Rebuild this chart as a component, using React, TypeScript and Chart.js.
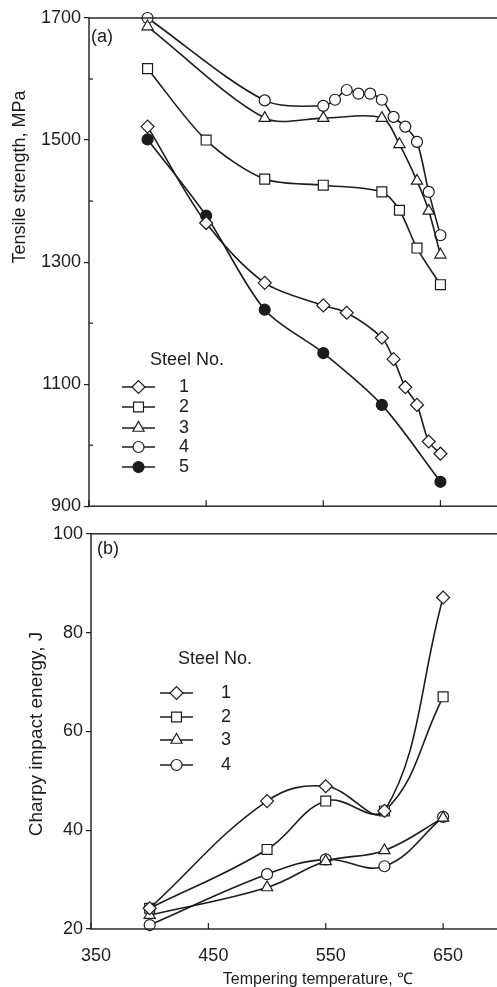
import React, { useEffect, useRef } from 'react';
import { Chart, registerables } from 'chart.js';

Chart.register(...registerables);

const FONT = '"Liberation Sans", Arial, Helvetica, sans-serif';
const INK = '#1c1c1c';

// ---------- Panel (a): tensile strength, MPa ----------
const tempA1 = [400, 450, 500, 550, 570, 600, 610, 620, 630, 640, 650];
const steel1A = [1522, 1364, 1266, 1229, 1217, 1176, 1141, 1095, 1066, 1006, 986];
const tempA2 = [400, 450, 500, 550, 600, 615, 630, 650];
const steel2A = [1617, 1500, 1436, 1426, 1415, 1385, 1323, 1263];
const tempA3 = [400, 500, 550, 600, 615, 630, 640, 650];
const steel3A = [1686, 1536, 1536, 1536, 1493, 1433, 1384, 1312];
const tempA4 = [400, 500, 550, 560, 570, 580, 590, 600, 610, 620, 630, 640, 650];
const steel4A = [1700, 1565, 1556, 1566, 1582, 1576, 1576, 1566, 1538, 1522, 1497, 1415, 1344];
const tempA5 = [400, 450, 500, 550, 600, 650];
const steel5A = [1501, 1376, 1222, 1151, 1066, 940];

// ---------- Panel (b): Charpy impact energy, J ----------
const tempB = [400, 500, 550, 600, 650];
const steel1B = [24.2, 45.9, 48.9, 43.9, 87.1];
const steel2B = [24.2, 36.1, 45.9, 43.9, 67.0];
const steel3B = [22.8, 28.4, 33.7, 35.9, 42.5];
const steel4B = [20.8, 31.1, 34.1, 32.7, 42.7];

// ---------- ticks & labels ----------
const xTickValues = [350, 450, 550, 650];
const yTicksA = [900, 1100, 1300, 1500, 1700];
const yMinorA = [1000, 1200, 1400, 1600];
const yTicksB = [20, 40, 60, 80, 100];
const steelLabelsA = ['1', '2', '3', '4', '5'];
const steelLabelsB = ['1', '2', '3', '4'];
const legendTitle = 'Steel No.';
const titleA = 'Tensile strength, MPa';
const titleB = 'Charpy impact energy, J';
const titleX = 'Tempering temperature, \u2103';

type Mk = { style: string; r: number; filled: boolean };
const markers: Mk[] = [
  { style: 'rectRot', r: 6.5, filled: false },
  { style: 'rect', r: 7, filled: false },
  { style: 'triangle', r: 6.5, filled: false },
  { style: 'circle', r: 5.5, filled: false },
  { style: 'circle', r: 5.5, filled: true },
];

function drawMarker(ctx: CanvasRenderingContext2D, m: Mk, x: number, y: number) {
  const r = m.r;
  ctx.beginPath();
  if (m.style === 'circle') {
    ctx.arc(x, y, r, 0, Math.PI * 2);
  } else if (m.style === 'rect') {
    const s = r * Math.SQRT1_2;
    ctx.rect(x - s, y - s, 2 * s, 2 * s);
  } else if (m.style === 'rectRot') {
    ctx.moveTo(x - r, y);
    ctx.lineTo(x, y - r);
    ctx.lineTo(x + r, y);
    ctx.lineTo(x, y + r);
    ctx.closePath();
  } else {
    const a = (2 * Math.PI) / 3;
    ctx.moveTo(x, y - r);
    ctx.lineTo(x + Math.sin(a) * r, y - Math.cos(a) * r);
    ctx.lineTo(x + Math.sin(2 * a) * r, y - Math.cos(2 * a) * r);
    ctx.closePath();
  }
  ctx.fillStyle = m.filled ? INK : '#ffffff';
  ctx.fill();
  ctx.lineWidth = 1.2;
  ctx.strokeStyle = INK;
  ctx.stroke();
}

function ds(temps: number[], vals: number[], i: number, tension: number) {
  const m = markers[i];
  return {
    data: temps.map((t, k) => ({ x: t, y: vals[k] })),
    showLine: true,
    borderColor: INK,
    borderWidth: 1.6,
    tension,
    fill: false,
    clip: false as const,
    pointStyle: m.style,
    pointRadius: m.r,
    pointHoverRadius: m.r,
    pointBackgroundColor: m.filled ? INK : '#ffffff',
    pointBorderColor: INK,
    pointBorderWidth: 1.2,
  };
}

type DecorCfg = {
  panel: string;
  panelPos: [number, number];
  yMinor: number[];
  legendLabels: string[];
  legendTitlePos: [number, number];
  legendYs: number[];
  legendLine: [number, number];
  legendNumX: number;
  yTitle: string;
  yTitlePos: [number, number];
  yTitleSize: number;
  xTitle?: string;
  xTitlePos?: [number, number];
};

function makeDecor(c: DecorCfg) {
  return {
    id: 'decor_' + c.panel,
    afterDatasetsDraw(chart: any) {
      const ctx: CanvasRenderingContext2D = chart.ctx;
      ctx.save();
      ctx.font = `18px ${FONT}`;
      ctx.fillStyle = INK;
      ctx.textBaseline = 'middle';
      ctx.textAlign = 'left';
      ctx.fillText(legendTitle, c.legendTitlePos[0], c.legendTitlePos[1]);
      c.legendLabels.forEach((lab, i) => {
        const y = c.legendYs[i];
        ctx.beginPath();
        ctx.moveTo(c.legendLine[0], y);
        ctx.lineTo(c.legendLine[1], y);
        ctx.lineWidth = 1.6;
        ctx.strokeStyle = INK;
        ctx.stroke();
        drawMarker(ctx, markers[i], (c.legendLine[0] + c.legendLine[1]) / 2, y);
        ctx.fillStyle = INK;
        ctx.textAlign = 'center';
        ctx.fillText(lab, c.legendNumX, y);
      });
      ctx.restore();
    },
    afterDraw(chart: any) {
      const ctx: CanvasRenderingContext2D = chart.ctx;
      const a = chart.chartArea;
      const xs = chart.scales.x;
      const ys = chart.scales.y;
      ctx.save();
      ctx.strokeStyle = INK;
      ctx.lineWidth = 1.4;
      ctx.strokeRect(a.left, a.top, a.right - a.left, a.bottom - a.top);
      ctx.lineWidth = 1.2;
      xTickValues.forEach((v) => {
        const x = xs.getPixelForValue(v);
        ctx.beginPath();
        ctx.moveTo(x, a.bottom);
        ctx.lineTo(x, a.bottom - 6);
        ctx.stroke();
      });
      c.yMinor.forEach((v) => {
        const y = ys.getPixelForValue(v);
        ctx.beginPath();
        ctx.moveTo(a.left, y);
        ctx.lineTo(a.left + 4, y);
        ctx.stroke();
      });
      ctx.fillStyle = INK;
      ctx.font = `18px ${FONT}`;
      ctx.textAlign = 'left';
      ctx.textBaseline = 'middle';
      ctx.fillText(`(${c.panel})`, c.panelPos[0], c.panelPos[1]);
      ctx.save();
      ctx.translate(c.yTitlePos[0], c.yTitlePos[1]);
      ctx.rotate(-Math.PI / 2);
      ctx.textAlign = 'center';
      ctx.font = `${c.yTitleSize}px ${FONT}`;
      ctx.fillText(c.yTitle, 0, 0);
      ctx.restore();
      if (c.xTitle && c.xTitlePos) {
        ctx.font = `16px ${FONT}`;
        ctx.textAlign = 'center';
        ctx.textBaseline = 'alphabetic';
        ctx.fillText(c.xTitle, c.xTitlePos[0], c.xTitlePos[1]);
      }
      ctx.restore();
    },
  };
}

function makeChart(
  canvas: HTMLCanvasElement,
  datasets: any[],
  yMin: number,
  yMax: number,
  yTicks: number[],
  yWidth: number,
  xHeight: number,
  showXLabels: boolean,
  padding: any,
  decor: any
) {
  return new Chart(canvas, {
    type: 'scatter',
    data: { datasets },
    options: {
      animation: false,
      responsive: false,
      devicePixelRatio: 1,
      layout: { padding },
      plugins: { legend: { display: false }, tooltip: { enabled: false } },
      scales: {
        x: {
          type: 'linear',
          min: 350,
          max: 700,
          afterBuildTicks: (s: any) => {
            s.ticks = xTickValues.map((v) => ({ value: v }));
          },
          afterFit: (s: any) => {
            s.height = xHeight;
          },
          grid: { display: false },
          border: { display: false },
          ticks: {
            display: showXLabels,
            padding: 8,
            labelOffset: 5,
            color: INK,
            font: { size: 18, family: FONT },
            maxRotation: 0,
            autoSkip: false,
            callback: (v: any) => String(v),
          },
        },
        y: {
          type: 'linear',
          min: yMin,
          max: yMax,
          afterBuildTicks: (s: any) => {
            s.ticks = yTicks.map((v) => ({ value: v }));
          },
          afterFit: (s: any) => {
            s.width = yWidth;
          },
          grid: { drawOnChartArea: false, drawTicks: true, tickLength: 5, color: INK, lineWidth: 1.2 },
          border: { display: false },
          ticks: {
            padding: 3,
            color: INK,
            font: { size: 18, family: FONT },
            autoSkip: false,
            callback: (v: any) => String(v),
          },
        },
      },
    },
    plugins: [decor],
  } as any);
}

export default function App() {
  const refA = useRef<HTMLCanvasElement>(null);
  const refB = useRef<HTMLCanvasElement>(null);

  useEffect(() => {
    Chart.defaults.font.family = FONT;
    const dsA = [
      ds(tempA1, steel1A, 0, 0.3),
      ds(tempA2, steel2A, 1, 0.3),
      ds(tempA3, steel3A, 2, 0.3),
      ds(tempA4, steel4A, 3, 0.3),
      ds(tempA5, steel5A, 4, 0.3),
    ];
    const dsB = [
      ds(tempB, steel1B, 0, 0.4),
      ds(tempB, steel2B, 1, 0.4),
      ds(tempB, steel3B, 2, 0.4),
      ds(tempB, steel4B, 3, 0.4),
    ];
    const decorA = makeDecor({
      panel: 'a',
      panelPos: [91, 37],
      yMinor: yMinorA,
      legendLabels: steelLabelsA,
      legendTitlePos: [150, 360],
      legendYs: [387, 407, 428, 447, 467],
      legendLine: [122, 155],
      legendNumX: 184,
      yTitle: titleA,
      yTitlePos: [20, 177],
      yTitleSize: 18,
    });
    const decorB = makeDecor({
      panel: 'b',
      panelPos: [97, 29],
      yMinor: [],
      legendLabels: steelLabelsB,
      legendTitlePos: [178, 139],
      legendYs: [173, 197, 220, 245],
      legendLine: [160, 193],
      legendNumX: 226,
      yTitle: titleB,
      yTitlePos: [37, 214],
      yTitleSize: 19,
      xTitle: titleX,
      xTitlePos: [318, 464],
    });
    const a = makeChart(refA.current!, dsA, 900, 1700, yTicksA, 89, 13, false, { top: 18, right: 11, left: 0, bottom: 0 }, decorA);
    const b = makeChart(refB.current!, dsB, 20, 100, yTicksB, 91, 58, true, { top: 11, right: 5, left: 0, bottom: 0 }, decorB);
    return () => {
      a.destroy();
      b.destroy();
    };
  }, []);

  return (
    <div
      style={{
        position: 'absolute',
        left: 0,
        top: 0,
        width: 497,
        height: 987,
        overflow: 'hidden',
        background: '#ffffff',
      }}
    >
      <canvas ref={refA} width={510} height={520} style={{ position: 'absolute', left: 0, top: 0, width: 510, height: 520 }} />
      <canvas ref={refB} width={510} height={467} style={{ position: 'absolute', left: 0, top: 520, width: 510, height: 467 }} />
    </div>
  );
}
